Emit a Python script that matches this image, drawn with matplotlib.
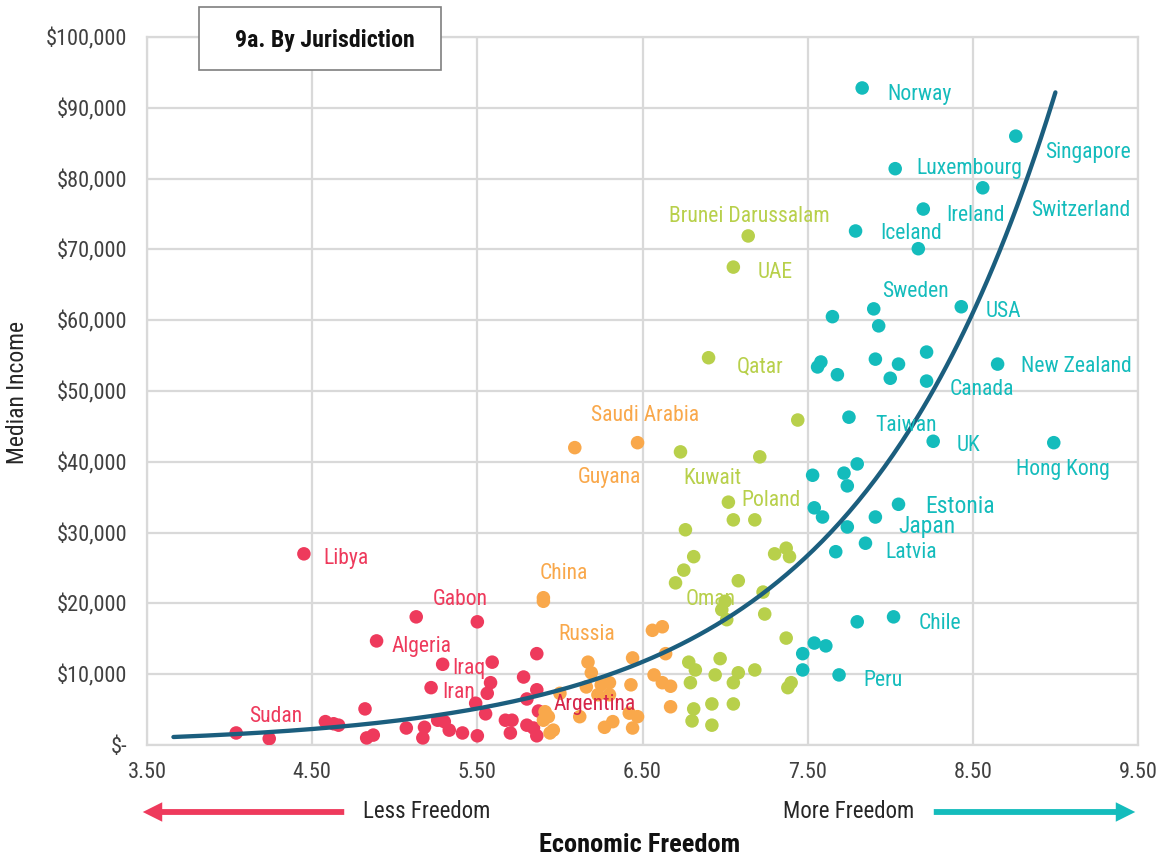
import matplotlib
matplotlib.use("Agg")
import matplotlib.pyplot as plt
from matplotlib import font_manager
from matplotlib.patches import Rectangle, FancyArrowPatch
import numpy as np

_names = {f.name for f in font_manager.fontManager.ttflist}
FONT = "Roboto"
for fam in ["Roboto Condensed", "Liberation Sans Narrow", "Roboto"]:
    if fam in _names:
        FONT = fam
        break
plt.rcParams["font.family"] = [FONT, "DejaVu Sans"]

# ---------------- data (x = economic freedom score, y = median income in $k) ----------------
red_x = [4.45, 5.13, 5.50, 4.89, 5.29, 5.22, 5.59, 5.86, 5.78, 5.58, 5.56, 5.86, 5.49, 5.80,
         5.55, 4.82, 4.58, 4.63, 4.66, 4.04, 4.24, 4.83, 4.87, 5.07, 5.18, 5.17, 5.26, 5.30,
         5.33, 5.41, 5.50, 5.67, 5.71, 5.80, 5.84, 5.87, 5.70, 5.86]
red_y = [27.0, 18.1, 17.4, 14.7, 11.4, 8.1, 11.7, 12.9, 9.6, 8.8, 7.3, 7.8, 5.9, 6.5,
         4.4, 5.1, 3.3, 3.0, 2.8, 1.7, 0.9, 1.0, 1.4, 2.4, 2.5, 1.0, 3.5, 3.3,
         2.1, 1.7, 1.3, 3.5, 3.5, 2.8, 2.4, 4.8, 1.7, 1.3]

orange_x = [6.09, 6.47, 5.90, 5.90, 6.17, 6.19, 6.16, 6.25, 6.30, 6.23, 6.30, 6.43, 6.44, 6.56,
            6.62, 6.64, 6.57, 6.62, 6.67, 6.67, 5.91, 5.93, 5.90, 5.96, 5.94, 6.12, 6.27, 6.32,
            6.42, 6.47, 6.44, 6.00]
orange_y = [42.0, 42.7, 20.8, 20.3, 11.7, 10.2, 8.2, 8.5, 8.8, 7.1, 7.1, 8.5, 12.3, 16.2,
            16.7, 12.9, 9.9, 8.8, 8.3, 5.4, 4.7, 4.0, 3.5, 2.1, 1.7, 4.0, 2.5, 3.3,
            4.5, 4.0, 2.4, 7.3]

green_x = [7.14, 7.05, 6.90, 7.44, 6.73, 7.21, 7.02, 7.05, 7.18, 6.76, 6.81, 6.75, 6.70, 7.08,
           7.30, 7.37, 7.39, 7.23, 7.00, 6.98, 7.01, 7.24, 7.37, 6.78, 6.82, 6.97, 6.94, 7.08,
           7.05, 7.18, 6.79, 6.81, 6.80, 6.92, 6.92, 7.05, 7.40, 7.38]
green_y = [71.9, 67.5, 54.7, 45.9, 41.4, 40.7, 34.3, 31.8, 31.8, 30.4, 26.6, 24.7, 22.9, 23.2,
           27.0, 27.8, 26.6, 21.6, 20.3, 19.1, 17.7, 18.5, 15.1, 11.7, 10.6, 12.2, 9.9, 10.2,
           8.8, 10.6, 8.8, 5.1, 3.4, 5.8, 2.8, 5.8, 8.8, 8.1]

teal_x = [7.83, 8.76, 8.03, 8.56, 8.20, 7.79, 8.17, 8.43, 7.90, 7.65, 7.93, 8.65, 8.22, 7.91,
          8.05, 7.58, 7.56, 7.68, 8.00, 8.22, 7.75, 8.26, 8.99, 7.53, 7.72, 7.80, 7.74, 7.54,
          7.59, 7.74, 7.91, 8.05, 7.85, 7.67, 8.02, 7.80, 7.54, 7.61, 7.47, 7.47, 7.69]
teal_y = [92.8, 86.0, 81.4, 78.7, 75.7, 72.6, 70.1, 61.9, 61.6, 60.5, 59.2, 53.8, 55.5, 54.5,
          53.8, 54.1, 53.4, 52.3, 51.8, 51.4, 46.3, 42.9, 42.7, 38.1, 38.4, 39.7, 36.6, 33.5,
          32.2, 30.8, 32.2, 34.0, 28.5, 27.3, 18.1, 17.4, 14.4, 14.0, 12.9, 10.6, 9.9]

# exponential trend line: income = TREND_A * exp(TREND_B * x)  ($k)
TREND_A = 0.0553
TREND_B = 0.8243
TREND_X_RANGE = (3.66, 9.0)

# country labels: (text, x, y, group)
labels = [
    ("Norway", 7.98, 92.2, "teal"), ("Singapore", 8.94, 84.0, "teal"),
    ("Luxembourg", 8.16, 81.8, "teal"), ("Ireland", 8.34, 75.1, "teal"),
    ("Switzerland", 8.85, 75.8, "teal"), ("Iceland", 7.94, 72.6, "teal"),
    ("Brunei Darussalam", 6.66, 75.0, "green"), ("UAE", 7.20, 67.1, "green"),
    ("Sweden", 7.95, 64.4, "teal"), ("USA", 8.58, 61.6, "teal"),
    ("Qatar", 7.07, 53.7, "green"), ("New Zealand", 8.79, 53.8, "teal"),
    ("Canada", 8.36, 50.6, "teal"), ("Saudi Arabia", 6.19, 46.9, "orange"),
    ("Taiwan", 7.91, 45.5, "teal"), ("UK", 8.40, 42.7, "teal"),
    ("Hong Kong", 8.76, 39.3, "teal"), ("Guyana", 6.11, 38.1, "orange"),
    ("Kuwait", 6.75, 38.0, "green"), ("Poland", 7.10, 34.9, "green"),
    ("Estonia", 8.21, 34.0, "teal_big"), ("Japan", 8.05, 31.2, "teal_big"),
    ("Latvia", 7.97, 27.5, "teal"), ("Libya", 4.57, 26.7, "red"),
    ("China", 5.88, 24.6, "orange"), ("Gabon", 5.23, 20.9, "red"),
    ("Oman", 6.76, 20.9, "green"), ("Chile", 8.17, 17.5, "teal"),
    ("Russia", 5.99, 16.0, "orange"), ("Algeria", 4.98, 14.3, "red"),
    ("Iraq", 5.35, 11.2, "red"), ("Peru", 7.84, 9.5, "teal"),
    ("Iran", 5.29, 7.8, "red"), ("Argentina", 5.96, 6.1, "red_dark"),
    ("Sudan", 4.12, 4.4, "red"),
]

x_ticks = [3.5, 4.5, 5.5, 6.5, 7.5, 8.5, 9.5]
y_ticks = [0, 10000, 20000, 30000, 40000, 50000, 60000, 70000, 80000, 90000, 100000]

# ---------------- styling ----------------
RED = "#EE3A5C"
ORANGE = "#F9A84B"
GREEN = "#B8D04B"
TEAL = "#14BCBC"
CURVE = "#1B5E7E"
GRID = "#d9d9d9"
TXT = "#404040"
label_colors = {"red": RED, "red_dark": "#D6254A", "orange": ORANGE, "green": GREEN,
                "teal": TEAL, "teal_big": TEAL}

fig = plt.figure(figsize=(11.74, 8.61), dpi=100)
ax = fig.add_axes([147 / 1174, 1 - 745 / 861, (1138 - 147) / 1174, (745 - 37) / 861])
ax.set_xlim(3.5, 9.5)
ax.set_ylim(0, 100000)
ax.set_xticks(x_ticks)
ax.set_xticklabels([f"{v:.2f}" for v in x_ticks])
ax.set_yticks(y_ticks)
ax.set_yticklabels(["$-" if v == 0 else f"${v:,.0f}" for v in y_ticks])
ax.tick_params(length=0, labelsize=16, colors=TXT)
ax.tick_params(axis="x", pad=12)
ax.tick_params(axis="y", pad=14)
ax.grid(True, color=GRID, lw=1.6)
ax.set_axisbelow(True)
for s in ax.spines.values():
    s.set_color(GRID)
    s.set_linewidth(1.6)

ms = 95
for xs, ys, c in [(red_x, red_y, RED), (orange_x, orange_y, ORANGE),
                  (green_x, green_y, GREEN), (teal_x, teal_y, TEAL)]:
    ax.scatter(xs, np.array(ys) * 1000, s=ms, color=c, edgecolor="none", zorder=3)

tx = np.linspace(TREND_X_RANGE[0], TREND_X_RANGE[1], 300)
ax.plot(tx, TREND_A * np.exp(TREND_B * tx) * 1000, color=CURVE, lw=3.1,
        solid_capstyle="round", zorder=4)

for text, lx, ly, grp in labels:
    size = 17 if grp == "teal_big" else 15.6
    ax.text(lx, ly * 1000, text, color=label_colors[grp], fontsize=size,
            ha="left", va="center_baseline", zorder=5)

# axis titles
fig.text(18 / 1174, 1 - 392 / 861, "Median Income", rotation=90, ha="center",
         va="center", fontsize=17, color="#262626")
fig.text(640 / 1174, 1 - 845 / 861, "Economic Freedom", ha="center", va="center",
         fontsize=19, fontweight="bold", color="#111111")

# title box
fig.add_artist(Rectangle((199 / 1174, 1 - 70 / 861), 242 / 1174, 63 / 861,
                         transform=fig.transFigure, facecolor="white",
                         edgecolor="#7f7f7f", lw=1.2, zorder=10))
fig.text(325 / 1174, 1 - 40 / 861, "9a. By Jurisdiction", ha="center", va="center",
         fontsize=17.2, fontweight="bold", color="#111111", zorder=11)

# freedom arrows
ya = 1 - 812 / 861
style = "simple,head_width=1.0,head_length=1.0,tail_width=0.3"
fig.add_artist(FancyArrowPatch((347 / 1174, ya), (140 / 1174, ya), transform=fig.transFigure,
                               arrowstyle=style, mutation_scale=14, color=RED, lw=0))
fig.add_artist(FancyArrowPatch((931 / 1174, ya), (1138 / 1174, ya), transform=fig.transFigure,
                               arrowstyle=style, mutation_scale=14, color=TEAL, lw=0))
fig.text(363 / 1174, ya, "Less Freedom", ha="left", va="center", fontsize=16.5, color="#262626")
fig.text(914 / 1174, ya, "More Freedom", ha="right", va="center", fontsize=16.5, color="#262626")

fig.savefig("out.png", dpi=100)
